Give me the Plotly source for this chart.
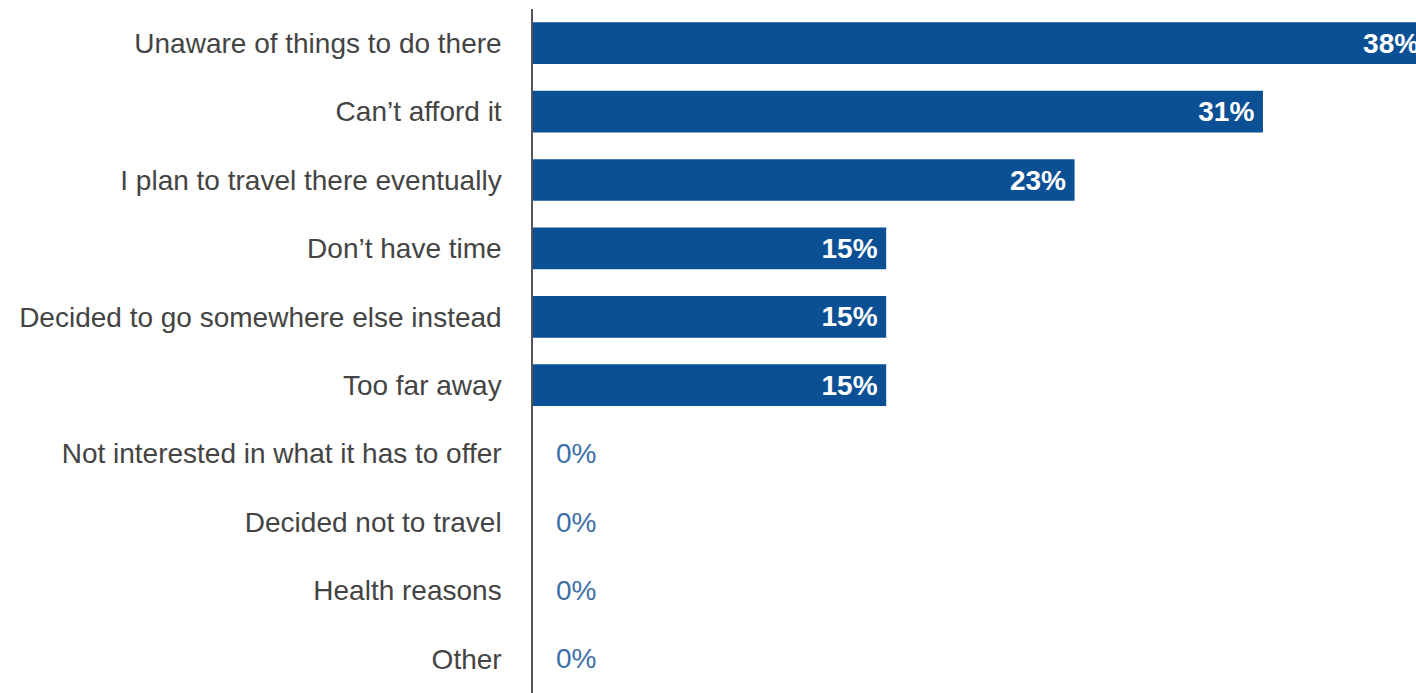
import plotly.graph_objects as go

# Survey: reasons for not visiting (share of respondents, %)
reasons = [
    "Unaware of things to do there",
    "Can\u2019t afford it",
    "I plan to travel there eventually",
    "Don\u2019t have time",
    "Decided to go somewhere else instead",
    "Too far away",
    "Not interested in what it has to offer",
    "Decided not to travel",
    "Health reasons",
    "Other",
]
shares = [38, 31, 23, 15, 15, 15, 0, 0, 0, 0]

BAR_COLOR = "#0b5094"
ZERO_COLOR = "#3e6fa6"
LABEL_COLOR = "#444444"
FONT = "Liberation Sans, Arial, sans-serif"

fig = go.Figure(
    go.Bar(
        x=shares,
        y=reasons,
        orientation="h",
        marker=dict(color=BAR_COLOR, line=dict(width=0)),
        texttemplate="%{x}%\u2009",
        textposition=["inside" if v > 0 else "none" for v in shares],
        insidetextanchor="end",
        textangle=0,
        constraintext="none",
        insidetextfont=dict(family=FONT, size=28, color="white", weight="bold"),
        cliponaxis=True,
        hoverinfo="skip",
    )
)

# zero values get a plain blue label just right of the axis
annotations = [
    dict(
        x=v, y=name, xref="x", yref="y", text=f"{v}%",
        showarrow=False, xanchor="left", xshift=21,
        font=dict(family=FONT, size=28, color=ZERO_COLOR),
    )
    for name, v in zip(reasons, shares) if v == 0
]

fig.update_layout(
    width=1416,
    height=693,
    margin=dict(l=533, r=0, t=9, b=0),
    paper_bgcolor="white",
    plot_bgcolor="white",
    bargap=0.39,
    showlegend=False,
    annotations=annotations,
    xaxis=dict(
        range=[0, 37.5],
        visible=False,
        fixedrange=True,
    ),
    yaxis=dict(
        categoryorder="array",
        categoryarray=reasons,
        autorange="reversed",
        showline=True,
        linecolor="#555555",
        linewidth=1.5,
        showgrid=False,
        ticks="",
        ticklabelstandoff=24,
        tickfont=dict(family=FONT, size=28, color=LABEL_COLOR),
        fixedrange=True,
    ),
)

fig.write_html("out.html")
